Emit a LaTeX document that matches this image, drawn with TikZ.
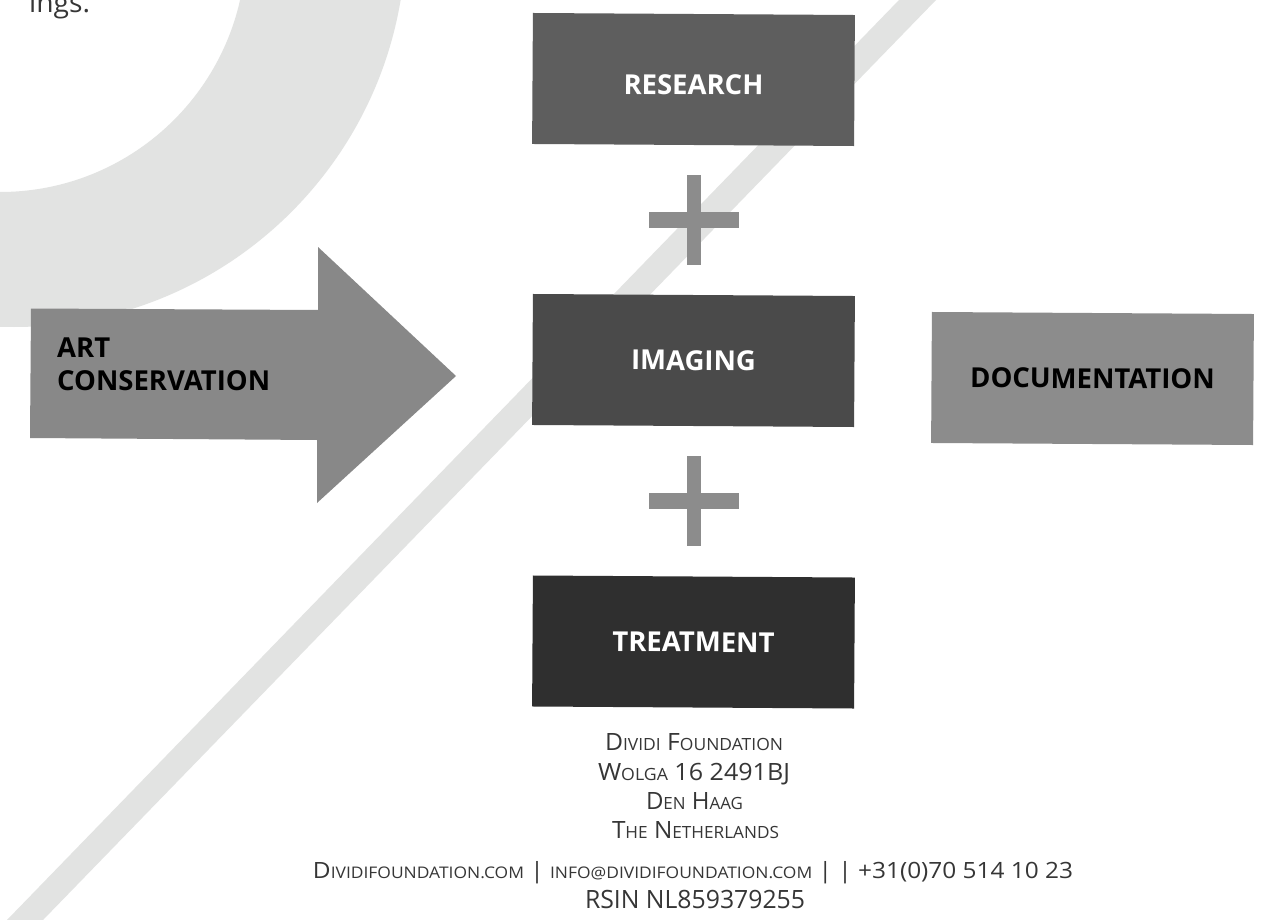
\documentclass[tikz,border=0pt]{standalone}
\usepackage{fontspec}
\setmainfont{Open Sans}
\usepackage{graphicx}
\usetikzlibrary{calc}
\definecolor{bggray}{HTML}{E2E3E2}
\definecolor{researchc}{HTML}{5E5E5E}
\definecolor{imagingc}{HTML}{4A4A4A}
\definecolor{treatc}{HTML}{2F2F2F}
\definecolor{docuc}{HTML}{8C8C8C}
\definecolor{arrowc}{HTML}{888888}
\definecolor{plusc}{HTML}{8C8C8C}
\definecolor{footc}{HTML}{363636}
\newcommand\smc[1]{{\fontsize{16.8}{16.8}\selectfont #1}}
\newcommand\smd[1]{{\fontsize{16}{16}\selectfont #1}}
\begin{document}
\begin{tikzpicture}[x=1pt,y=-1pt,
  boxnode/.style={rectangle, inner sep=0pt, minimum width=322pt, minimum height=131pt,
    rotate=-0.36, font=\fontsize{27.5}{30}\selectfont\bfseries},
  whitelbl/.style={text=white},
  blacklbl/.style={text=black},
  footline/.style={anchor=base, inner sep=0pt, text=footc},
  plussign/.pic={
    \fill[plusc] (-45,-8) rectangle (45,8);
    \fill[plusc] (-7,-45) rectangle (7,45);
  }]
\useasboundingbox (0,0) rectangle (1266,920);
\fill[white] (0,0) rectangle (1266,920);
\begin{scope}
  \clip (0,0) rectangle (1266,920);
  % background ring
  \fill[bggray, even odd rule] (14,-65) circle[radius=392] (0,-54) circle[radius=246];
  % diagonal stripe
  \fill[bggray] (908.7,-10) -- (945.7,-10) -- (33.3,930) -- (-2.7,930) -- cycle;
\end{scope}

% fragment of text at top left
\node[anchor=base west, inner sep=0pt, text=footc] (ings) at (29,13)
  {\resizebox{61pt}{\height}{\fontsize{27}{27}\selectfont ings.}};

% arrow
\fill[arrowc] (31,308.5) -- (318,310) -- (318,247) -- (456,376) -- (317,503)
  -- (317,440) -- (30,438) -- cycle;
\node[anchor=west, inner sep=0pt, align=left, text=black,
  font=\fontsize{27.5}{33}\selectfont\bfseries] (art) at (57,364.5) {ART\\CONSERVATION};

% boxes
\node[boxnode, whitelbl, fill=researchc, text height=30pt, text depth=0pt] (research) at (693.5,79.5) {RESEARCH};
\node[boxnode, whitelbl, fill=imagingc] (imaging) at (693.5,360.5) {IMAGING};
\node[boxnode, whitelbl, fill=treatc] (treatment) at (693.5,642) {TREATMENT};
\node[boxnode, blacklbl, fill=docuc] (documentation) at (1092.5,378.5) {DOCUMENTATION};

% plus signs
\pic at ($(research.south)!0.5!(imaging.north)$) {plussign};
\pic at ($(imaging.south)!0.5!(treatment.north)$) {plussign};

% footer
\node[footline] (f1) at (694,750)
  {\resizebox{178pt}{\height}{\fontsize{23.8}{24}\selectfont D\smc{IVIDI} F\smc{OUNDATION}}};
\node[footline] (f2) at (694,780)
  {\resizebox{192pt}{\height}{\fontsize{23.8}{24}\selectfont W\smc{OLGA} 16 2491BJ}};
\node[footline] (f3) at (694.5,809)
  {\resizebox{97pt}{\height}{\fontsize{23.8}{24}\selectfont D\smc{EN} H\smc{AAG}}};
\node[footline] (f4) at (695.5,838)
  {\resizebox{167pt}{\height}{\fontsize{23.8}{24}\selectfont T\smc{HE} N\smc{ETHERLANDS}}};
\node[footline] (f5) at (693,878)
  {\resizebox{760pt}{\height}{\fontsize{22.4}{24}\selectfont D\smd{IVIDIFOUNDATION.COM} | \smd{INFO@DIVIDIFOUNDATION.COM} | | +31(0)70 514 10 23}};
\node[footline] (f6) at (695,908)
  {\resizebox{220pt}{\height}{\fontsize{25.2}{26}\selectfont RSIN NL859379255}};
\end{tikzpicture}
\end{document}
